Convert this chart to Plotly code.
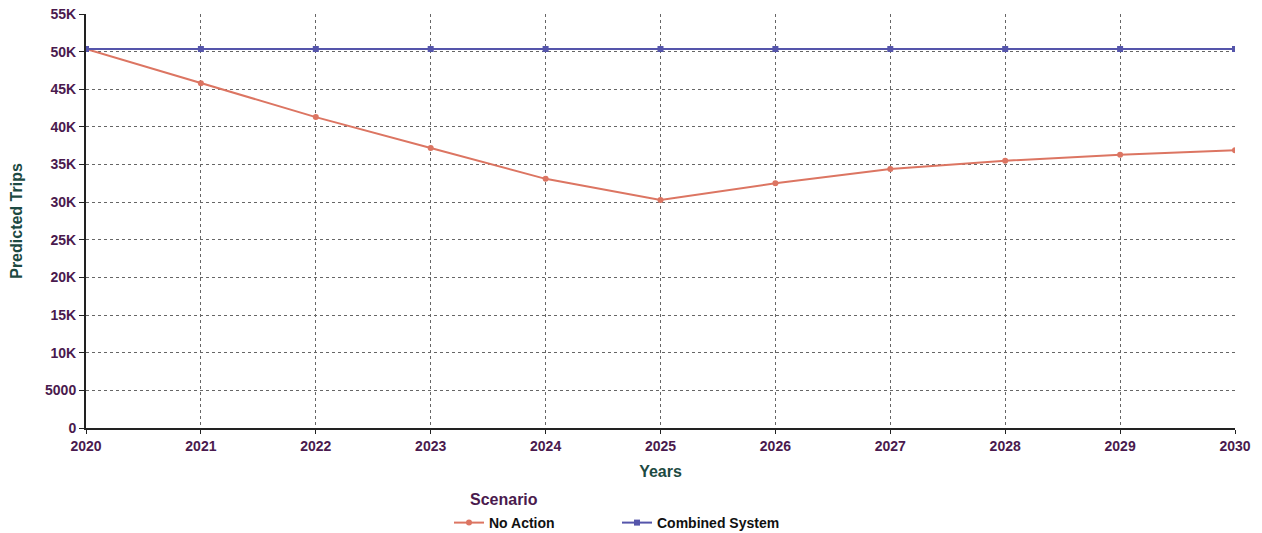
import plotly.graph_objects as go

years = [2020, 2021, 2022, 2023, 2024, 2025, 2026, 2027, 2028, 2029, 2030]
no_action = [50350, 45800, 41300, 37200, 33100, 30300, 32500, 34400, 35500, 36300, 36900]
combined = [50350] * 11
y_tickvals = [0, 5000, 10000, 15000, 20000, 25000, 30000, 35000, 40000, 45000, 50000, 55000]
y_ticktext = ["0", "5000", "10K", "15K", "20K", "25K", "30K", "35K", "40K", "45K", "50K", "55K"]

TICK_COLOR = "#4a1a4e"
TITLE_COLOR = "#1d4a42"
FONT = "Liberation Sans, Arial, sans-serif"

fig = go.Figure()
fig.add_trace(go.Scatter(
    x=years, y=no_action, name="<b>No Action</b>", mode="lines+markers",
    line=dict(color="#dc7562", width=2), marker=dict(size=6, color="#dc7562"),
))
fig.add_trace(go.Scatter(
    x=years, y=combined, name="<b>Combined System</b>", mode="lines+markers",
    line=dict(color="#5555ab", width=2), marker=dict(size=6, color="#5555ab", symbol="square"),
))

fig.update_layout(
    width=1262, height=533,
    margin=dict(l=86, r=27, t=14, b=105),
    paper_bgcolor="white", plot_bgcolor="white",
    font=dict(family=FONT, size=14, color=TICK_COLOR),
    showlegend=True,
    legend=dict(
        orientation="h", xref="paper", x=(449 - 86) / 1149, xanchor="left",
        yref="container", y=1 - 507 / 533, yanchor="top",
        font=dict(size=14, color="#111111", family=FONT),
        entrywidth=123, itemwidth=30, tracegroupgap=0,
    ),
    annotations=[dict(
        text="<b>Scenario</b>", xref="paper", yref="paper",
        x=(468 - 86) / 1149, xanchor="left", y=-(500 - 428) / 414, yanchor="middle",
        showarrow=False, font=dict(size=16, color=TICK_COLOR, family=FONT),
    )],
    xaxis=dict(
        range=[2020, 2030], tickmode="array", tickvals=years,
        ticktext=[f"<b>{y}</b>" for y in years],
        showgrid=True, gridcolor="#666666", griddash="dot", gridwidth=1,
        showline=True, linecolor="#222222", linewidth=2,
        ticks="outside", ticklen=4, tickcolor="#222222",
        title=dict(text="<b>Years</b>", font=dict(size=16, color=TITLE_COLOR), standoff=13),
        zeroline=False, automargin=False,
    ),
    yaxis=dict(
        range=[0, 55000], tickmode="array", tickvals=y_tickvals,
        ticktext=[f"<b>{t}</b>" for t in y_ticktext],
        showgrid=True, gridcolor="#666666", griddash="dot", gridwidth=1,
        showline=True, linecolor="#222222", linewidth=2,
        ticks="outside", ticklen=5, tickcolor="#222222",
        title=dict(text="<b>Predicted Trips</b>", font=dict(size=16, color=TITLE_COLOR), standoff=18),
        zeroline=False, automargin=False,
    ),
)

fig.write_html("out.html")
